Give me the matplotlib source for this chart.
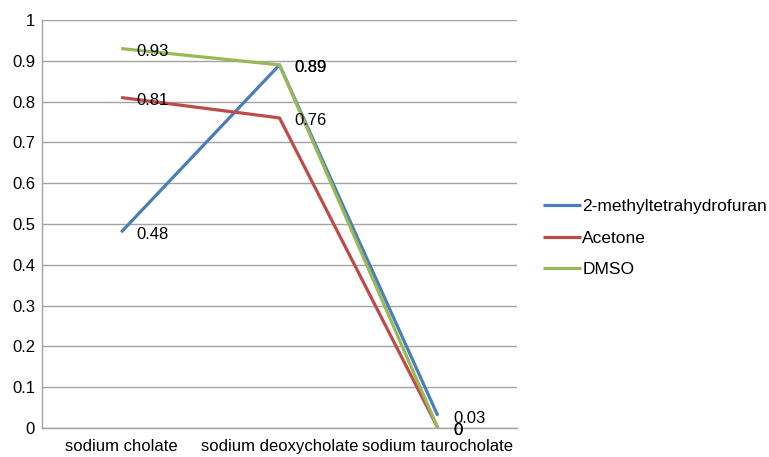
import numpy as np
import matplotlib.pyplot as plt

plt.rcParams['font.family'] = ['Liberation Sans', 'DejaVu Sans']

# categories and measured values per solvent
categories = ['sodium cholate', 'sodium deoxycholate', 'sodium taurocholate']
mthf = [0.48, 0.89, 0.03]
acetone = [0.81, 0.76, 0.0]
dmso = [0.93, 0.89, 0.0]

series = [
    ('2-methyltetrahydrofuran', mthf, '#4A7EBB'),
    ('Acetone', acetone, '#BE4B48'),
    ('DMSO', dmso, '#98B954'),
]

fs = 12

fig = plt.figure(figsize=(7.69, 4.57), dpi=100)
ax = fig.add_axes([0.0546, 0.0635, 0.6177, 0.8927])

x = np.arange(len(categories))
for name, vals, col in series:
    ax.plot(x, vals, color=col, lw=2.3, label=name, solid_capstyle='butt', zorder=3)
    for xi, v in zip(x, vals):
        ax.annotate(f'{v:g}', (xi, v), xytext=(11, -2), textcoords='offset points',
                    ha='left', va='center', fontsize=fs, zorder=4)

ax.set_xlim(-0.5, 2.5)
ax.set_ylim(0, 1)
ax.set_yticks(np.arange(0, 1.01, 0.1))
ax.set_yticklabels(['0'] + [f'{t:.1f}' for t in np.arange(0.1, 0.95, 0.1)] + ['1'])
ax.set_xticks(x)
ax.set_xticklabels(categories)
ax.tick_params(length=0, labelsize=fs, pad=8)
ax.tick_params(axis='y', pad=5)
ax.grid(axis='y', color='#A3A3A3', lw=1)
ax.set_axisbelow(True)
for s in ['top', 'right']:
    ax.spines[s].set_visible(False)
for s in ['left', 'bottom']:
    ax.spines[s].set_color('#A3A3A3')
    ax.spines[s].set_linewidth(1)

fig.legend(loc='center left', bbox_to_anchor=(0.686, 0.479), frameon=False,
           fontsize=12.5, handlelength=2.2, handletextpad=0.05, labelspacing=0.95)

fig.savefig('out.png', dpi=100)
